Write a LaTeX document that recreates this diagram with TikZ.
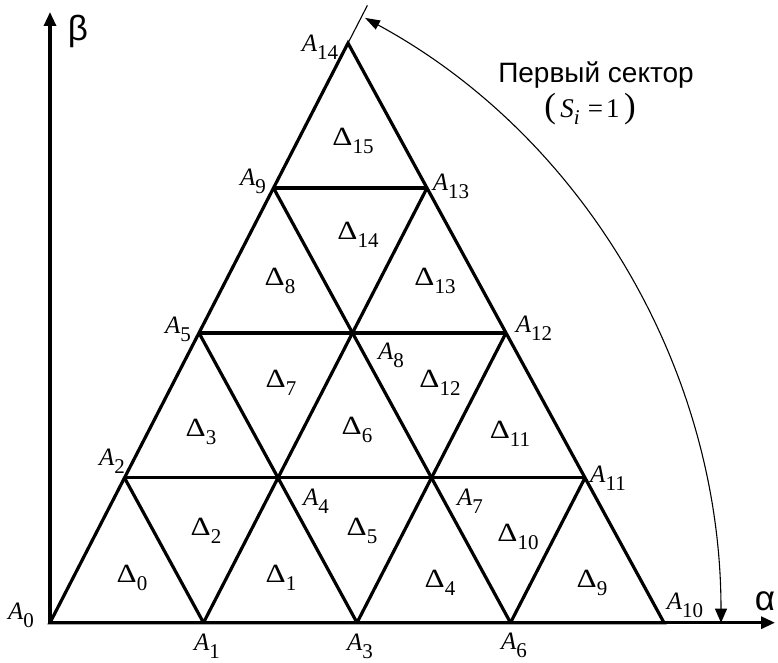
\documentclass[tikz,border=0pt]{standalone}
\usepackage{fontspec}
\setmainfont{Liberation Serif}
\newfontfamily\grsans{Liberation Sans}
\usetikzlibrary{arrows.meta, calc}

\newcommand{\Albl}[1]{\textit{A}\raisebox{-8pt}{\fontsize{21}{21}\selectfont #1}}
\newcommand{\Dlbl}[1]{\scalebox{1.25}[1.05]{Δ}\raisebox{-8pt}{\fontsize{21}{21}\selectfont #1}}

\begin{document}
\begin{tikzpicture}[x=1pt,y=1pt,
  gridline/.style={line width=3.2pt},
  axisline/.style={line width=3.2pt, -{Triangle[length=14pt,width=12pt]}},
  thinline/.style={line width=1.1pt},
  lbl/.style={inner sep=0pt, font=\fontsize{25}{27}\selectfont}]
  \path[use as bounding box] (0,0) rectangle (778,662);
  \fill[white] (0,0) rectangle (778,662);
  % lattice points A_k at row r, column j
  \foreach \k/\j/\r in {0/0/0,1/1/0,3/2/0,6/3/0,10/4/0,2/0/1,4/1/1,7/2/1,11/3/1,
                        5/0/2,8/1/2,12/2/2,9/0/3,13/1/3,14/0/4}{
    \coordinate (A\k) at ({50+153.5*\j+74.5*\r},{39.3+144.9*\r});
  }
  \coordinate (alphaEnd) at (775,39.3);
  \coordinate (betaEnd) at (50,650);
  % axes
  \draw[axisline] (A0) -- (alphaEnd);
  \draw[axisline] (A0) -- (betaEnd);
  % triangle grid
  \draw[gridline] (A0) -- (A10) -- (A14) -- cycle;
  \draw[gridline] (A2) -- (A11);
  \draw[gridline] (A5) -- (A12);
  \draw[gridline] (A9) -- (A13);
  \draw[gridline] (A1) -- (A13);
  \draw[gridline] (A3) -- (A12);
  \draw[gridline] (A6) -- (A11);
  \draw[gridline] (A1) -- (A2);
  \draw[gridline] (A3) -- (A5);
  \draw[gridline] (A6) -- (A9);
  % sector mark
  \coordinate (secTick) at ($(A0)!1.065!(A14)$);
  \coordinate (secTop) at ($(A0)+(62:671 and 685)$);
  \draw[thinline] (A14) -- (secTick);
  \draw[thinline, {Triangle[length=15pt,width=10pt]}-{Triangle[length=14pt,width=12pt]}]
    (secTop) arc[start angle=62, end angle=0, x radius=671pt, y radius=685pt];
  % vertex labels
  \foreach \k/\x/\y in {0/21/47,1/207/16,3/360/16,6/514/17,10/685/57,2/112/201,4/316/161,
                        7/470/161,11/608/184,5/178/333,8/391/307,12/534/334,9/253/481,
                        13/451/476,14/320/615}{
    \node[lbl] (lA\k) at (\x,\y) {\Albl{\k}};
  }
  % triangle labels
  \foreach \k/\x/\y in {0/132/84,1/281/84,2/206/131,5/362/131,4/440/79,10/518/125,9/592/79,
                        3/201/230,7/281/279,6/357/232,12/440/279,11/510/228,8/280/381,
                        14/358/427,13/435/381,15/353/521}{
    \node[lbl] (lD\k) at (\x,\y) {\Dlbl{\k}};
  }
  % axis names
  \node[inner sep=0pt, font=\grsans\fontsize{35}{37}\selectfont] (alphaName) at (765,61) {α};
  \node[inner sep=0pt, font=\grsans\fontsize{35}{37}\selectfont] (betaName) at (78,631) {β};
  % sector caption
  \node[inner sep=0pt, anchor=base, font=\grsans\fontsize{28}{30}\selectfont] (secName) at (596,579) {Первый сектор};
  \node[inner sep=0pt, anchor=base, font=\fontsize{27}{29}\selectfont] (secCond) at (590,544)
    {{\fontsize{35}{35}\selectfont(}\,\textit{S}\raisebox{-7pt}{\fontsize{21}{21}\selectfont\textit{i}}\hspace{8pt}=\hspace{3pt}1\,{\fontsize{35}{35}\selectfont)}};
\end{tikzpicture}
\end{document}
